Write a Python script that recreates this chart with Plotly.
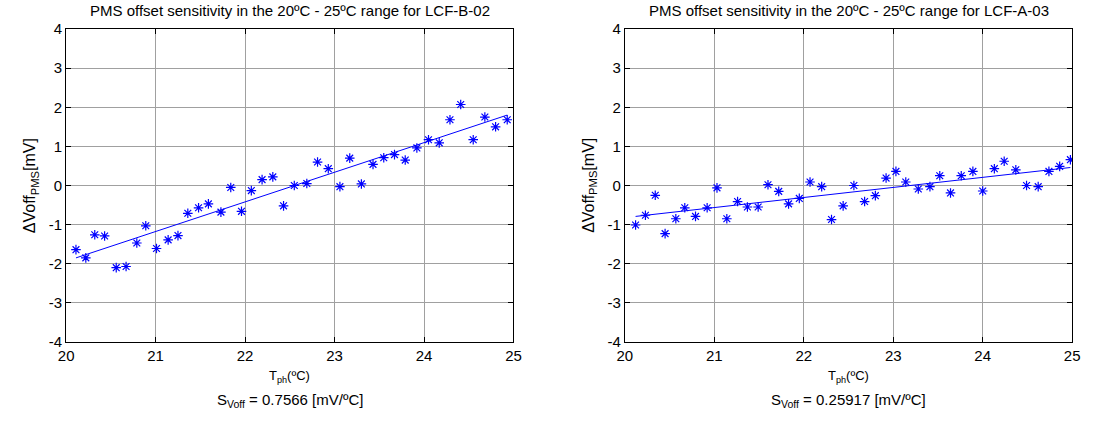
import plotly.graph_objects as go

# ---- data: left panel (LCF-B-02)
tB = [20.11, 20.22, 20.32, 20.43, 20.56, 20.67, 20.79, 20.89, 21.01, 21.14,
      21.25, 21.36, 21.48, 21.59, 21.73, 21.84, 21.96, 22.07, 22.19, 22.31,
      22.43, 22.55, 22.69, 22.81, 22.93, 23.06, 23.17, 23.30, 23.43, 23.55,
      23.67, 23.79, 23.92, 24.05, 24.17, 24.29, 24.41, 24.55, 24.68, 24.80, 24.93]
vB = [-1.64, -1.85, -1.26, -1.29, -2.10, -2.07, -1.47, -1.03, -1.61, -1.39,
      -1.28, -0.71, -0.57, -0.47, -0.68, -0.05, -0.66, -0.13, 0.15, 0.22,
      -0.52, 0.00, 0.05, 0.60, 0.43, -0.03, 0.70, 0.04, 0.54, 0.71,
      0.79, 0.65, 0.96, 1.17, 1.09, 1.68, 2.07, 1.17, 1.75, 1.50, 1.68]
fitB_x = [20.11, 24.93]
fitB_y = [-1.85, 1.80]

# ---- data: right panel (LCF-A-03)
tA = [20.12, 20.23, 20.34, 20.45, 20.57, 20.67, 20.79, 20.92, 21.03, 21.14,
      21.26, 21.37, 21.49, 21.60, 21.72, 21.83, 21.95, 22.07, 22.20, 22.31,
      22.44, 22.56, 22.68, 22.80, 22.92, 23.03, 23.14, 23.28, 23.41, 23.52,
      23.64, 23.76, 23.89, 24.00, 24.13, 24.24, 24.37, 24.49, 24.62, 24.74,
      24.86, 24.98]
vA = [-1.01, -0.76, -0.25, -1.23, -0.85, -0.57, -0.79, -0.57, -0.06, -0.85,
      -0.41, -0.55, -0.55, 0.02, -0.15, -0.47, -0.33, 0.09, -0.03, -0.87,
      -0.52, 0.00, -0.41, -0.26, 0.19, 0.36, 0.09, -0.09, -0.03, 0.25,
      -0.19, 0.25, 0.36, -0.14, 0.43, 0.62, 0.40, 0.00, -0.03, 0.36,
      0.49, 0.66]
fitA_x = [20.12, 24.98]
fitA_y = [-0.79, 0.46]

titles = ["PMS offset sensitivity in the 20ºC - 25ºC range for LCF-B-02",
          "PMS offset sensitivity in the 20ºC - 25ºC range for LCF-A-03"]
slopes = ["0.7566", "0.25917"]
x_ticks = [20, 21, 22, 23, 24, 25]
y_ticks = [-4, -3, -2, -1, 0, 1, 2, 3, 4]
y_ticktext = ["-4", "-3", "-2", "-1", "0", "1", "2", "3", "4"]

W, H = 1093, 421
FONT = "Liberation Sans, Arial, sans-serif"
BLUE = "#0000ff"

fig = go.Figure()
panels = [(tB, vB, fitB_x, fitB_y, "x", "y"), (tA, vA, fitA_x, fitA_y, "x2", "y2")]
for t, v, fx, fy, xa, ya in panels:
    fig.add_trace(go.Scatter(x=t, y=v, mode="markers", xaxis=xa, yaxis=ya,
                             marker=dict(symbol="asterisk-open", size=8, color=BLUE,
                                         line=dict(color=BLUE, width=1.2)),
                             showlegend=False))
    fig.add_trace(go.Scatter(x=fx, y=fy, mode="lines", xaxis=xa, yaxis=ya,
                             line=dict(color=BLUE, width=1), showlegend=False))

domains = [(59 / W, 513 / W), (626 / W, 1080 / W)]
axcommon = dict(showline=True, linecolor="black", linewidth=1, mirror="ticks",
                ticks="inside", ticklen=5, tickcolor="black", showgrid=True,
                gridcolor="#a0a0a0", gridwidth=1, zeroline=False,
                tickfont=dict(family=FONT, size=15, color="black"))
layout = dict(
    width=W, height=H, paper_bgcolor="white", plot_bgcolor="white",
    margin=dict(l=0, r=0, t=29, b=79),
    xaxis=dict(domain=domains[0], range=[20, 25], tickvals=x_ticks, anchor="y", **axcommon),
    yaxis=dict(domain=[0, 1], range=[-4, 4], tickvals=y_ticks, ticktext=y_ticktext,
               anchor="x", **axcommon),
    xaxis2=dict(domain=domains[1], range=[20, 25], tickvals=x_ticks, anchor="y2", **axcommon),
    yaxis2=dict(domain=[0, 1], range=[-4, 4], tickvals=y_ticks, ticktext=y_ticktext,
                anchor="x2", **axcommon),
    font=dict(family=FONT, color="black"),
)
fig.update_layout(**layout)

ann = []
ylab_x = [23 / W, 590 / W]
for i, (d0, d1) in enumerate(domains):
    cx = (d0 + d1) / 2
    ann.append(dict(text=titles[i], x=cx, y=1 + 18 / 313, xref="paper", yref="paper",
                    showarrow=False, xanchor="center", yanchor="middle",
                    font=dict(family=FONT, size=15, color="black")))
    ann.append(dict(text="T<sub>ph</sub>(ºC)", x=cx, y=-34 / 313, xref="paper", yref="paper",
                    showarrow=False, xanchor="center", yanchor="middle",
                    font=dict(family=FONT, size=13, color="black")))
    ann.append(dict(text="S<sub>Voff</sub> = " + slopes[i] + " [mV/ºC]", x=cx, y=-59 / 313,
                    xref="paper", yref="paper", showarrow=False, xanchor="center",
                    yanchor="middle", font=dict(family=FONT, size=15, color="black")))
    ann.append(dict(text="ΔVoff<sub>PMS</sub>[mV]", x=ylab_x[i], y=0.5, xref="paper",
                    yref="paper", showarrow=False, textangle=-90, xanchor="center",
                    yanchor="middle", font=dict(family=FONT, size=16, color="black")))
fig.update_layout(annotations=ann)

fig.write_html("out.html", config={"displayModeBar": False},
               post_script="document.body.style.margin='0';document.body.style.overflow='hidden';")
